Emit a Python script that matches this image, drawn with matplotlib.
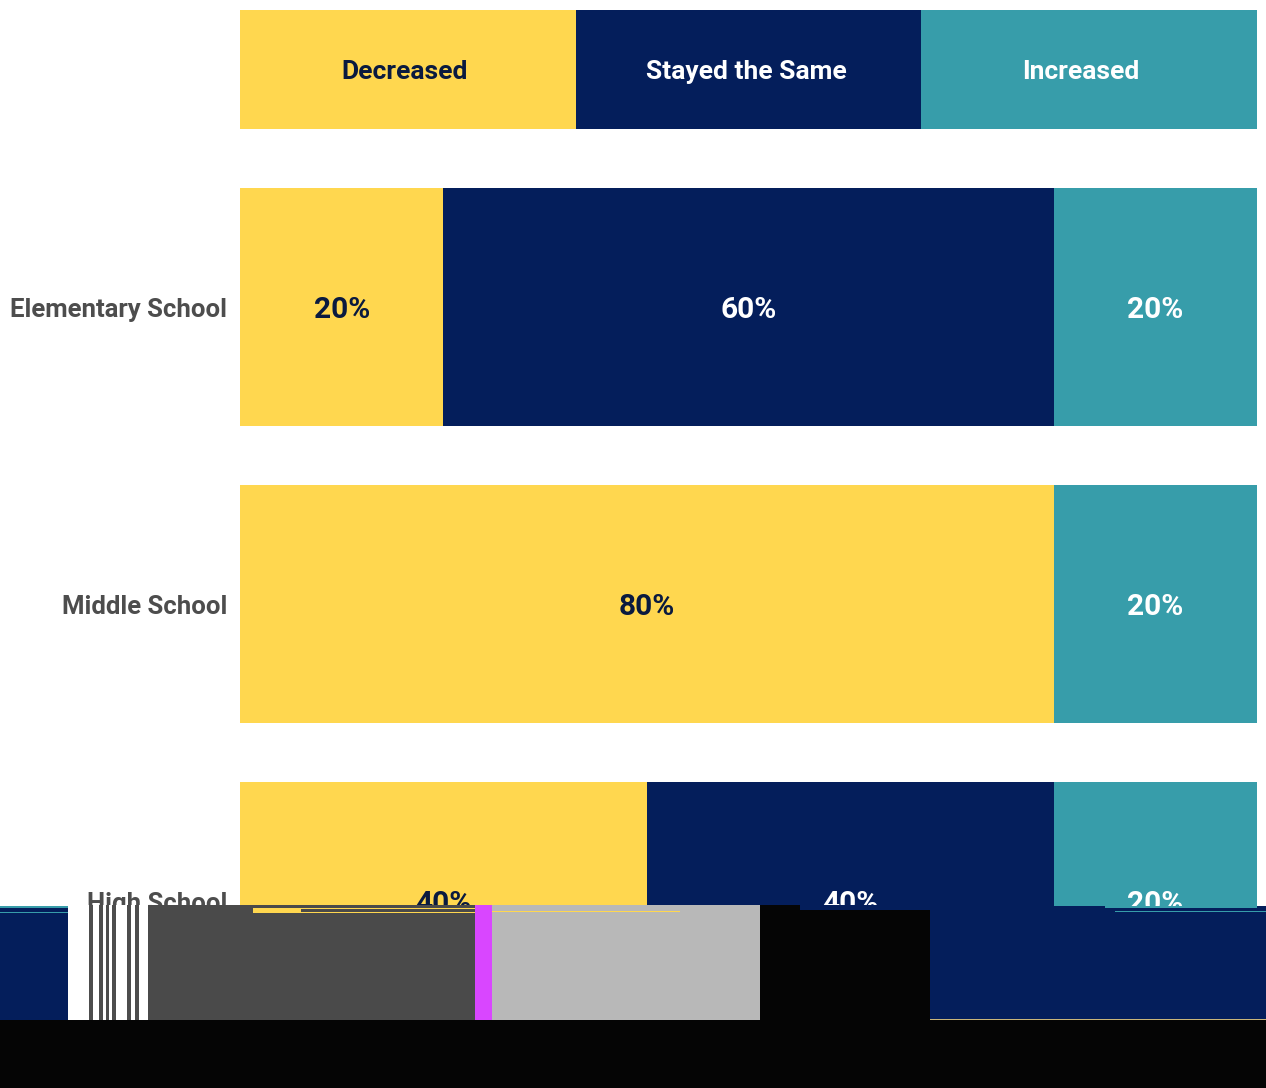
import matplotlib
matplotlib.use('Agg')
import matplotlib.pyplot as plt
from matplotlib.patches import Rectangle

W, H = 1266, 1088

schools = ['Elementary School', 'Middle School', 'High School']
series_names = ['Decreased', 'Stayed the Same', 'Increased']
decreased = [20, 80, 40]
same = [60, 0, 40]
increased = [20, 20, 20]
key_widths = [33, 34, 33]
key_label_x = [16.2, 49.8, 82.7]

colors = ['#FFD74F', '#041E5B', '#379DAA']
text_colors = ['#0A1A3F', 'white', 'white']

plt.rcParams['font.family'] = ['Roboto', 'Liberation Sans', 'DejaVu Sans']


def axes_px(fig, left, top, right, bottom):
    return fig.add_axes([left / W, 1 - bottom / H, (right - left) / W, (bottom - top) / H])


fig = plt.figure(figsize=(W / 100, H / 100), dpi=100)

# key strip on top
ax_key = axes_px(fig, 240, 10, 1257, 129)
left = 0
for name, width, lx, color, tc in zip(series_names, key_widths, key_label_x, colors, text_colors):
    ax_key.barh(0, width, left=left, height=1, color=color)
    ax_key.text(lx, 0, name, ha='center', va='center_baseline',
                color=tc, fontsize=19, fontweight='bold')
    left += width
ax_key.set_xlim(0, 100)
ax_key.set_ylim(-0.5, 0.5)
ax_key.axis('off')

# main bars
ax = axes_px(fig, 240, 158.5, 1257, 1049.5)
lefts = [0, 0, 0]
for values, color, tc in zip([decreased, same, increased], colors, text_colors):
    ax.barh(range(len(schools)), values, left=lefts, height=0.8, color=color)
    for i, v in enumerate(values):
        if v > 0:
            ax.text(lefts[i] + v / 2, i, f'{v}%', ha='center', va='center_baseline',
                    color=tc, fontsize=21.5, fontweight='bold')
    lefts = [a + b for a, b in zip(lefts, values)]
ax.set_xlim(0, 100)
ax.set_ylim(2.5, -0.5)
ax.set_yticks(range(len(schools)))
ax.set_yticklabels(schools, fontsize=18.5, fontweight='bold', color='#4D4D4D')
ax.tick_params(axis='y', length=0, pad=9)
ax.xaxis.set_visible(False)
for s in ax.spines.values():
    s.set_visible(False)

# the reference image is broken below y=905, these are the damaged blocks
overlay = fig.add_axes([0, 0, 1, 1], zorder=5)
overlay.set_xlim(0, W)
overlay.set_ylim(H, 0)
overlay.axis('off')
blocks = [
    (0, 906, 68, 114, '#041E5B'),
    (68, 905, 80, 115, 'white'),
    (148, 905, 327, 115, '#4A4A4A'),
    (475, 905, 17, 115, '#D946FF'),
    (492, 905, 268, 115, '#B8B8B8'),
    (760, 905, 170, 115, '#050505'),
    (930, 906, 336, 114, '#041E5B'),
    (0, 1020, W, 68, '#050505'),
    (0, 906, 68, 1.5, '#379DAA'),
    (0, 912, 68, 1, '#379DAA'),
    (253, 908, 48, 5, '#FFD74F'),
    (301, 908, 174, 1, '#FFD74F'),
    (301, 912, 174, 1, '#FFD74F'),
    (492, 911, 188, 1, '#FFD74F'),
    (800, 905, 130, 5, '#041E5B'),
    (1105, 906, 152, 2, '#379DAA'),
    (1115, 911, 151, 1, '#379DAA'),
    (930, 1019, 336, 1, '#C9B67A'),
]
stripes = [(88.7, 4), (98.7, 4), (105.7, 3.3), (112, 3.7), (127, 3.7), (135.3, 3.4)]
for x, y, w, h, c in blocks:
    overlay.add_patch(Rectangle((x, y), w, h, color=c, lw=0))
for x, w in stripes:
    overlay.add_patch(Rectangle((x, 905), w, 115, color='#4D4D4D', lw=0))

fig.savefig('out.png', dpi=100)
